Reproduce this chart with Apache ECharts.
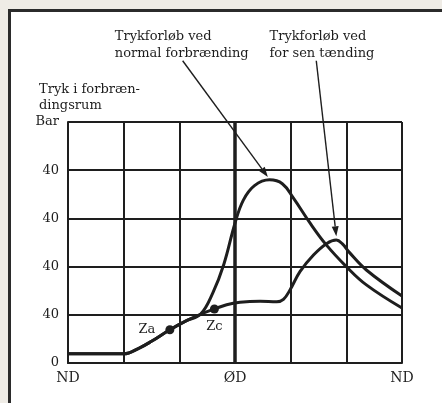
<!DOCTYPE html>
<html>
<head>
<meta charset="utf-8">
<script src="https://cdn.jsdelivr.net/npm/echarts@6/dist/echarts.min.js"></script>
<style>
  html, body { margin: 0; padding: 0; background: #efece6; }
  #panel { position: absolute; left: 8px; top: 9px; width: 446px; height: 410px; background: #fff; border: 3px solid #2b2b2b; box-sizing: border-box; }
  #chart { position: absolute; left: 0; top: 0; width: 442px; height: 403px; }
</style>
</head>
<body>
<div id="panel"></div>
<div id="chart"></div>
<script>
// Data (x in grid columns from ND to ND, y in grid rows)
const xLabels = ['ND', '', '', 'ØD', '', '', 'ND'];
const yLabels = ['0', '40', '40', '40', '40', 'Bar'];
const sharedStart = [[0, 0.19], [1.0, 0.19], [1.28, 0.31], [1.5, 0.45], [1.83, 0.69], [2.13, 0.88], [2.38, 1.01]];
const normalCurve = [[2.6, 1.45], [2.8, 2.05], [3.0, 2.9], [3.15, 3.38], [3.35, 3.68], [3.62, 3.8], [3.85, 3.72], [4.05, 3.42], [4.35, 2.9], [4.64, 2.45], [5.0, 2.0], [5.36, 1.62], [6.0, 1.14]];
const lateCurve = [[2.63, 1.12], [2.85, 1.21], [3.09, 1.26], [3.45, 1.28], [3.75, 1.27], [3.87, 1.32], [3.99, 1.52], [4.17, 1.9], [4.41, 2.24], [4.65, 2.48], [4.82, 2.55], [4.93, 2.47], [5.05, 2.3], [5.36, 1.93], [6.0, 1.39]];
const ignitionPoints = [{ name: 'Za', value: [1.83, 0.69] }, { name: 'Zc', value: [2.63, 1.12] }];
const annotationTexts = ['Trykforløb ved\nnormal forbrænding', 'Trykforløb ved\nfor sen tænding'];
const annotationAt = [[0.84, 6.94], [3.62, 6.94]];
const arrowFrom = [[2.06, 6.27], [4.46, 6.27]];
const arrowTo = [[3.59, 3.86], [4.82, 2.63]];
const yAxisName = 'Tryk i forbræn-\ndingsrum';

const FONT = 'DejaVu Serif';
const INK = '#1e1e1e';
const chart = echarts.init(document.getElementById('chart'), null, { renderer: 'canvas' });

chart.setOption({
  backgroundColor: 'transparent',
  animation: false,
  grid: { left: 68, right: 40, top: 122, bottom: 40 },
  xAxis: {
    type: 'value', min: 0, max: 6, interval: 1,
    axisLine: { show: true, lineStyle: { color: INK, width: 2 } },
    axisTick: { show: false },
    axisLabel: { margin: 8, color: INK, fontFamily: FONT, fontSize: 14, formatter: v => xLabels[Math.round(v)] },
    splitLine: { show: true, lineStyle: { color: INK, width: 2 } }
  },
  yAxis: {
    type: 'value', min: 0, max: 5, interval: 1,
    name: yAxisName, nameLocation: 'end', nameGap: 8,
    nameTextStyle: { align: 'left', padding: [0, 0, 0, -29], color: INK, fontFamily: FONT, fontSize: 13, lineHeight: 16 },
    axisLine: { show: true, lineStyle: { color: INK, width: 2 } },
    axisTick: { show: false },
    axisLabel: { margin: 9, color: INK, fontFamily: FONT, fontSize: 13, formatter: v => yLabels[Math.round(v)] },
    splitLine: { show: true, lineStyle: { color: INK, width: 2 } }
  },
  series: [
    {
      name: 'Trykforløb ved normal forbrænding', type: 'line',
      data: sharedStart.concat(normalCurve), smooth: 0.4,
      showSymbol: false, lineStyle: { color: INK, width: 3 }, z: 3,
      markLine: { silent: true, symbol: 'none', label: { show: false }, lineStyle: { color: INK, width: 3.5, type: 'solid' }, data: [{ xAxis: 3 }] }
    },
    {
      name: 'Trykforløb ved for sen tænding', type: 'line',
      data: sharedStart.concat(lateCurve), smooth: 0.4,
      showSymbol: false, lineStyle: { color: INK, width: 3 }, z: 3
    },
    {
      type: 'scatter', symbolSize: 9, z: 4,
      itemStyle: { color: INK, opacity: 1 },
      label: { show: true, formatter: p => p.name, color: INK, fontFamily: FONT, fontSize: 13 },
      data: [
        { name: ignitionPoints[0].name, value: ignitionPoints[0].value, label: { position: 'left', distance: 10 } },
        { name: ignitionPoints[1].name, value: ignitionPoints[1].value, label: { position: 'bottom', distance: 7 } }
      ]
    }
  ]
});

// Annotations and arrows, placed in data coordinates
const graphics = [];
annotationTexts.forEach((t, i) => {
  const p = chart.convertToPixel({ gridIndex: 0 }, annotationAt[i]);
  graphics.push({ type: 'text', x: p[0], y: p[1], style: { text: t, fill: INK, font: '13px "' + FONT + '"', lineHeight: 17, verticalAlign: 'top', align: 'left' } });
});
arrowFrom.forEach((f, i) => {
  const a = chart.convertToPixel({ gridIndex: 0 }, f);
  const b = chart.convertToPixel({ gridIndex: 0 }, arrowTo[i]);
  const dx = b[0] - a[0], dy = b[1] - a[1];
  const L = Math.sqrt(dx * dx + dy * dy), ux = dx / L, uy = dy / L;
  const hl = 10, hw = 3.5;
  const bx = b[0] - ux * hl, by = b[1] - uy * hl;
  graphics.push({ type: 'line', shape: { x1: a[0], y1: a[1], x2: bx, y2: by }, style: { stroke: INK, lineWidth: 1.4 }, z: 10 });
  graphics.push({ type: 'polygon', shape: { points: [[b[0], b[1]], [bx - uy * hw, by + ux * hw], [bx + uy * hw, by - ux * hw]] }, style: { fill: INK }, z: 10 });
});
chart.setOption({ graphic: graphics });
</script>
</body>
</html>
